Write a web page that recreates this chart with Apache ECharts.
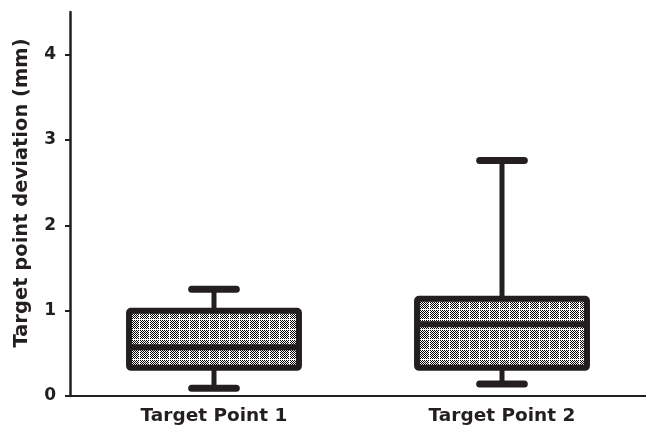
<!DOCTYPE html>
<html>
<head>
<meta charset="utf-8">
<script src="https://cdn.jsdelivr.net/npm/echarts@6/dist/echarts.min.js"></script>
<style>
html,body{margin:0;padding:0;background:#fff;}
#main{width:646px;height:433px;}
</style>
</head>
<body>
<div id="main"></div>
<script>
const categories = ['Target Point 1', 'Target Point 2'];
const whiskerLow = [0.09, 0.14];
const quartile1 = [0.33, 0.33];
const medians = [0.57, 0.84];
const quartile3 = [1.0, 1.14];
const whiskerHigh = [1.25, 2.76];
const yTicks = [0, 1, 2, 3, 4];

const INK = '#231f20';
const FONT = 'DejaVu Sans';

// dotted (checkered) fill pattern: 9x9 checker + 1px white line
const P = 10;
const pc = document.createElement('canvas');
pc.width = P; pc.height = P;
const pctx = pc.getContext('2d');
pctx.fillStyle = '#fff';
pctx.fillRect(0, 0, P, P);
pctx.fillStyle = '#000';
for (let y = 0; y < P - 1; y++) {
  for (let x = 0; x < P - 1; x++) {
    if ((x + y) % 2 === 0) pctx.fillRect(x, y, 1, 1);
  }
}
const pattern = { image: pc, repeat: 'repeat' };

const boxData = categories.map((c, i) => [i, whiskerLow[i], quartile1[i], medians[i], quartile3[i], whiskerHigh[i]]);

function renderBox(params, api) {
  const idx = api.value(0);
  const band = api.size([1, 0])[0];
  const cx = api.coord([idx, 0])[0];
  const yMin = api.coord([idx, api.value(1)])[1];
  const yQ1 = api.coord([idx, api.value(2)])[1];
  const yMed = api.coord([idx, api.value(3)])[1];
  const yQ3 = api.coord([idx, api.value(4)])[1];
  const yMax = api.coord([idx, api.value(5)])[1];
  const bw = band * 0.59;
  const cw = band * 0.155;
  const lineStyle = (w) => ({ stroke: INK, lineWidth: w, fill: null });
  return {
    type: 'group',
    children: [
      { type: 'line', shape: { x1: cx, y1: yQ3, x2: cx, y2: yMax }, style: lineStyle(5) },
      { type: 'line', shape: { x1: cx, y1: yQ1, x2: cx, y2: yMin }, style: lineStyle(5) },
      { type: 'line', shape: { x1: cx - cw / 2, y1: yMax, x2: cx + cw / 2, y2: yMax }, style: Object.assign(lineStyle(7), { lineCap: 'round' }) },
      { type: 'line', shape: { x1: cx - cw / 2, y1: yMin, x2: cx + cw / 2, y2: yMin }, style: Object.assign(lineStyle(7), { lineCap: 'round' }) },
      { type: 'rect', shape: { x: cx - bw / 2, y: yQ3, width: bw, height: yQ1 - yQ3, r: 2 }, style: { fill: pattern, stroke: INK, lineWidth: 6 } },
      { type: 'line', shape: { x1: cx - bw / 2, y1: yMed, x2: cx + bw / 2, y2: yMed }, style: lineStyle(6) }
    ]
  };
}

const chart = echarts.init(document.getElementById('main'), null, { renderer: 'canvas' });
chart.setOption({
  animation: false,
  backgroundColor: '#fff',
  grid: { left: 70, right: 0, top: 12, bottom: 37, containLabel: false },
  xAxis: {
    type: 'category',
    data: categories,
    boundaryGap: true,
    axisLine: { lineStyle: { color: INK, width: 2 } },
    axisTick: { alignWithLabel: true, length: 4, lineStyle: { color: INK, width: 2 } },
    axisLabel: { color: INK, fontFamily: FONT, fontWeight: 'bold', fontSize: 18.5, margin: 11 }
  },
  yAxis: {
    type: 'value',
    min: 0, max: 4.5, interval: 1,
    name: 'Target point deviation (mm)',
    nameLocation: 'middle',
    nameGap: 38,
    nameTextStyle: { color: INK, fontFamily: FONT, fontWeight: 'bold', fontSize: 19.5, padding: [0, 0, 0, 22] },
    axisLine: { show: true, lineStyle: { color: INK, width: 2.5 } },
    axisTick: { show: true, length: 5, customValues: yTicks, lineStyle: { color: INK, width: 2 } },
    axisLabel: { color: INK, fontFamily: FONT, fontWeight: 'bold', fontSize: 17, margin: 14, customValues: yTicks },
    splitLine: { show: false }
  },
  series: [{
    type: 'custom',
    renderItem: renderBox,
    data: boxData,
    encode: { x: 0, y: [1, 2, 3, 4, 5] },
    clip: false
  }]
});
</script>
</body>
</html>
